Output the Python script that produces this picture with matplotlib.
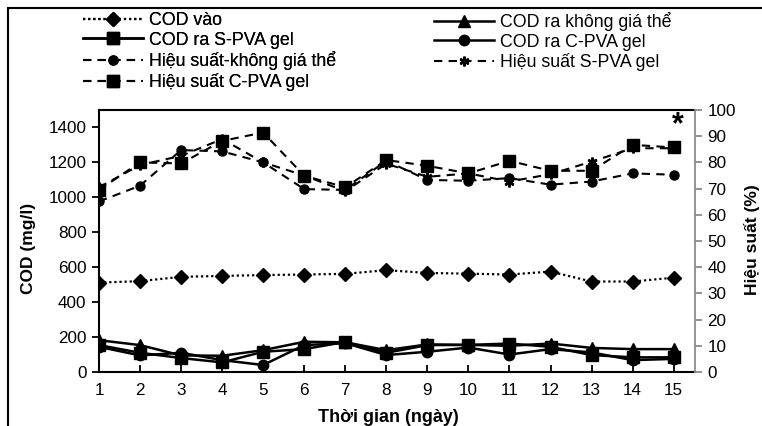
import matplotlib
matplotlib.use('Agg')
import matplotlib.pyplot as plt
from matplotlib.patches import Rectangle

plt.rcParams['font.family'] = ['Liberation Sans', 'DejaVu Sans']

# ---- data ----
days = list(range(1, 16))
cod_in = [512, 520, 545, 550, 555, 558, 562, 583, 567, 563, 558, 575, 518, 518, 540]
cod_out_none = [182, 154, 95, 93, 125, 173, 170, 125, 158, 155, 150, 163, 138, 131, 131]
cod_out_s = [154, 110, 80, 55, 116, 131, 172, 110, 154, 155, 163, 144, 97, 84, 84]
cod_out_c = [144, 95, 110, 68, 40, 154, 165, 97, 116, 140, 100, 131, 112, 68, 75]
eff_none = [65.1, 71.1, 84.7, 84.2, 80.0, 69.8, 69.5, 80.6, 73.3, 73.0, 74.0, 71.5, 72.7, 75.8, 75.3]
eff_s = [70.5, 79.0, 82.5, 88.9, 80.0, 75.0, 69.0, 79.5, 74.5, 75.8, 72.7, 75.5, 80.3, 85.4, 85.4]
eff_c = [69.5, 80.0, 79.6, 88.2, 91.4, 74.9, 70.5, 80.9, 78.7, 75.8, 80.6, 76.8, 76.8, 86.7, 85.7]

labels = ['COD vào', 'COD ra không giá thể', 'COD ra S-PVA gel', 'COD ra C-PVA gel',
          'Hiệu suất-không giá thể', 'Hiệu suất S-PVA gel', 'Hiệu suất C-PVA gel']
left_ticks = [0, 200, 400, 600, 800, 1000, 1200, 1400]
right_ticks = [0, 10, 20, 30, 40, 50, 60, 70, 80, 90, 100]

W, H = 762, 426
fig = plt.figure(figsize=(W / 100, H / 100), dpi=100)

def fx(px):
    return px / W

def fy(py):
    return 1 - py / H

ax = fig.add_axes([fx(99), fy(372), fx(695) - fx(99), fy(110) - fy(372)])
ax2 = ax.twinx()

dash = (0, (4, 3))
star = (6, 2, 0)

l_in, = ax.plot(days, cod_in, color='black', lw=1.6, linestyle=(0, (1, 1.3)),
                marker='D', ms=7, label=labels[0])
l_none, = ax.plot(days, cod_out_none, color='black', lw=1.8, marker='^', ms=8, label=labels[1])
l_s, = ax.plot(days, cod_out_s, color='black', lw=1.8, marker='s', ms=8, label=labels[2])
l_c, = ax.plot(days, cod_out_c, color='black', lw=1.8, marker='o', ms=7.5, label=labels[3])

e_none, = ax2.plot(days, eff_none, color='black', lw=1.5, linestyle=dash, marker='o', ms=6.5,
                   label=labels[4])
e_s, = ax2.plot(days, eff_s, color='black', lw=1.5, linestyle=dash, marker=star, ms=7,
                markeredgewidth=1.8, label=labels[5])
e_c, = ax2.plot(days, eff_c, color='black', lw=1.5, linestyle=dash, marker='s', ms=9,
                label=labels[6])

ax.set_xlim(1, 15.52)
ax.set_ylim(0, 1500)
ax2.set_ylim(0, 100)
ax.set_xticks(days)
ax.set_yticks(left_ticks)
ax2.set_yticks(right_ticks)

ax.tick_params(axis='x', direction='in', length=5, width=1.3, labelsize=12.3, pad=8)
ax.tick_params(axis='y', direction='out', length=5, width=1.3, labelsize=12.3, pad=4)
ax2.tick_params(axis='y', direction='out', length=5, width=1.3, labelsize=12.3, pad=4,
                color='#8c8c8c')

for s in ['left', 'bottom', 'top']:
    ax.spines[s].set_linewidth(1.5)
    ax.spines[s].set_color('black')
ax.spines['right'].set_visible(False)
for s in ['left', 'bottom', 'top']:
    ax2.spines[s].set_visible(False)
ax2.spines['right'].set_color('#8c8c8c')
ax2.spines['right'].set_linewidth(1.3)

fig.text(fx(28), fy(248), 'COD (mg/l)', rotation=90, ha='center', va='center',
         fontsize=12.5, fontweight='bold')
fig.text(fx(752), fy(240), 'Hiệu suất (%)', rotation=90, ha='center', va='center',
         fontsize=12.5, fontweight='bold')
fig.text(fx(388), fy(417), 'Thời gian (ngày)', ha='center', va='center',
         fontsize=13, fontweight='bold')

ax2.text(15.1, 94, '*', ha='center', va='center', fontsize=22, fontweight='bold')

# legends (row-wise order as in reference)
common = dict(frameon=False, fontsize=12.8, handlelength=3.4, handletextpad=0.34,
              labelspacing=0.15, borderpad=0, borderaxespad=0, loc='upper left',
              bbox_transform=fig.transFigure)
leg1 = fig.legend([l_in, l_s, e_none, e_c], [labels[0], labels[2], labels[4], labels[6]],
                  bbox_to_anchor=(fx(83), fy(12)), **common)
leg2 = fig.legend([l_none, l_c, e_s], [labels[1], labels[3], labels[5]],
                  bbox_to_anchor=(fx(434), fy(12)), **common)
fig.add_artist(leg1)

# outer border (open to the right and bottom)
fig.patches.append(Rectangle((fx(8), -0.2), 2, fy(8) + 0.2, transform=fig.transFigure,
                             fill=False, edgecolor='black', lw=1.5, clip_on=False))

fig.savefig('out.png', dpi=100)
